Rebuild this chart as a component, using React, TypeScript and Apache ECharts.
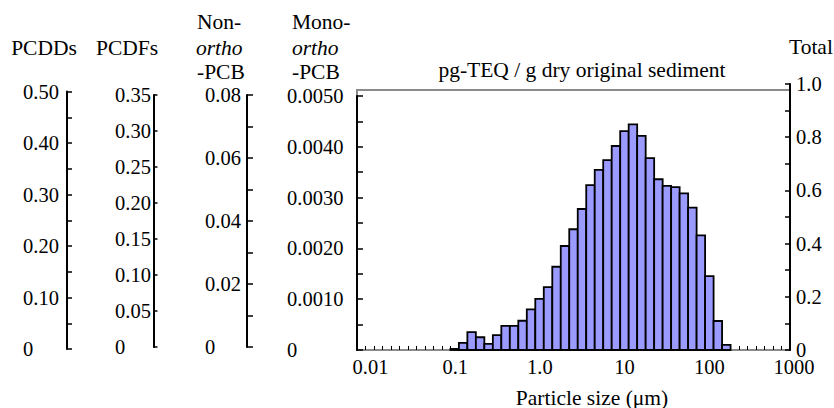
import React, { useEffect, useRef } from 'react';
import * as echarts from 'echarts';

const FONT = 'Liberation Serif, Times New Roman, serif';

// x axis: particle size, log10 scale (decades)
const sizeTickLog10 = [-2, -1, 0, 1, 2, 3];
const sizeTickLabels = ['0.01', '0.1', '1.0', '10', '100', '1000'];

// histogram bins (log10 of particle size, µm)
const binStartLog10 = -1.05;
const binWidthLog10 = 0.1;
// bar heights on the "Total" axis (0 – 1.0)
const totalValues = [
  0.004, 0.027, 0.067, 0.048, 0.023, 0.056, 0.091, 0.091, 0.11, 0.153, 0.192,
  0.236, 0.313, 0.391, 0.454, 0.53, 0.62, 0.677, 0.714, 0.767, 0.823, 0.848,
  0.805, 0.721, 0.642, 0.617, 0.612, 0.589, 0.535, 0.431, 0.278, 0.109, 0.019,
];

// axis ranges
const pcddsRange = [0, 0.5];
const pcdfsRange = [0, 0.35];
const nonOrthoRange = [0, 0.08];
const monoOrthoRange = [0, 0.005];
const totalRange = [0, 1.0];

const isMultiple = (v: number, step: number) => Math.abs(v / step - Math.round(v / step)) < 1e-6;

const labelStyle = { color: '#000', fontFamily: FONT, fontSize: 20.5 };

function leftAxis(gridIndex: number, range: number[], interval: number, labelStep: number, digits: number, margin: number, tickLen: number, padTop: number) {
  return {
    type: 'value',
    gridIndex,
    position: 'left',
    min: range[0],
    max: range[1],
    interval,
    z: 3,
    splitLine: { show: false },
    axisLine: { show: true, lineStyle: { color: '#000', width: 2 } },
    axisTick: { show: true, inside: true, length: tickLen, lineStyle: { color: '#000', width: 1.5 } },
    axisLabel: {
      ...labelStyle,
      align: 'left',
      margin,
      padding: [padTop, 0, 0, 0],
      formatter: (v: number) => (v === 0 ? '0' : isMultiple(v, labelStep) ? v.toFixed(digits) : ''),
    },
  };
}

function hiddenX(gridIndex: number) {
  return { type: 'value', gridIndex, show: false, min: 0, max: 1 };
}
function hiddenY(gridIndex: number) {
  return { type: 'value', gridIndex, show: false, min: 0, max: 1 };
}

export default function App() {
  const ref = useRef<HTMLDivElement>(null);

  useEffect(() => {
    if (!ref.current) return;
    const chart = echarts.init(ref.current, null, { renderer: 'svg' });

    const barData = totalValues.map((v, i) => {
      const start = binStartLog10 + i * binWidthLog10;
      return [start, start + binWidthLog10, v];
    });

    const option: any = {
      animation: false,
      backgroundColor: '#fff',
      textStyle: { fontFamily: FONT },
      grid: [
        { left: 357, top: 84, width: 433, height: 266, outerBoundsMode: 'none', containLabel: false },
        { left: 357, top: 96, width: 433, height: 254, outerBoundsMode: 'none', containLabel: false },
        { left: 357, top: 90, width: 433, height: 260, show: true, borderColor: '#8a8a8a', borderWidth: 2, z: 0, outerBoundsMode: 'none', containLabel: false },
        { left: 370.5, top: 84, width: 423.5, height: 266, outerBoundsMode: 'none', containLabel: false },
        { left: 67, top: 91.5, width: 10, height: 257.5, outerBoundsMode: 'none', containLabel: false },
        { left: 153.5, top: 95, width: 10, height: 252, outerBoundsMode: 'none', containLabel: false },
        { left: 247, top: 95, width: 10, height: 252, outerBoundsMode: 'none', containLabel: false },
      ],
      xAxis: [
        {
          type: 'value',
          gridIndex: 0,
          min: -2.15,
          max: 2.95,
          interval: binWidthLog10,
          z: 1,
          splitLine: { show: false },
          axisLine: { show: true, onZero: false, lineStyle: { color: '#8a8a8a', width: 2 } },
          axisTick: { show: true, inside: true, length: 4, lineStyle: { color: '#000', width: 1 } },
          axisLabel: { show: false },
        },
        hiddenX(1),
        hiddenX(2),
        {
          type: 'value',
          gridIndex: 3,
          min: sizeTickLog10[0],
          max: sizeTickLog10[sizeTickLog10.length - 1],
          interval: 1,
          splitLine: { show: false },
          axisLine: { show: false },
          axisTick: { show: false },
          axisLabel: {
            ...labelStyle,
            margin: 6,
            formatter: (v: number) => sizeTickLabels[sizeTickLog10.indexOf(Math.round(v))] ?? '',
          },
        },
        hiddenX(4),
        hiddenX(5),
        hiddenX(6),
      ],
      yAxis: [
        {
          type: 'value',
          gridIndex: 0,
          position: 'right',
          min: totalRange[0],
          max: totalRange[1],
          interval: 0.1,
          z: 3,
          splitLine: { show: false },
          axisLine: { show: true, onZero: false, lineStyle: { color: '#000', width: 2 } },
          axisTick: { show: true, inside: true, length: 5, lineStyle: { color: '#000', width: 1.5 } },
          axisLabel: {
            ...labelStyle,
            margin: 6,
            formatter: (v: number) => (v === 0 ? '0' : isMultiple(v, 0.2) ? v.toFixed(1) : ''),
          },
        },
        leftAxis(1, monoOrthoRange, 0.0005, 0.001, 4, 70, 6, 9),
        hiddenY(2),
        hiddenY(3),
        leftAxis(4, pcddsRange, 0.05, 0.1, 2, 44, 5, 9),
        leftAxis(5, pcdfsRange, 0.05, 0.05, 2, 38.5, 4, 7),
        leftAxis(6, nonOrthoRange, 0.01, 0.02, 2, 42, 6, 12),
      ],
      series: [
        {
          type: 'custom',
          xAxisIndex: 0,
          yAxisIndex: 0,
          z: 2,
          encode: { x: [0, 1], y: 2 },
          data: barData,
          renderItem: (_params: any, api: any) => {
            const p0 = api.coord([api.value(0), api.value(2)]);
            const p1 = api.coord([api.value(1), 0]);
            return {
              type: 'rect',
              shape: { x: p0[0], y: p0[1], width: p1[0] - p0[0], height: p1[1] - p0[1] },
              style: { fill: '#9b9bff', stroke: '#000', lineWidth: 1.8 },
            };
          },
        },
      ],
      graphic: [
        ...[
          { t: 'PCDDs', x: 44, y: 47.5, a: 'center' },
          { t: 'PCDFs', x: 127, y: 47.5, a: 'center' },
          { t: 'Non-', x: 197, y: 21.5, a: 'left' },
          { t: 'ortho', x: 196, y: 47.5, a: 'left', i: true },
          { t: '-PCB', x: 197, y: 71.5, a: 'left' },
          { t: 'Mono-', x: 292, y: 21.5, a: 'left' },
          { t: 'ortho', x: 292, y: 47.5, a: 'left', i: true },
          { t: '-PCB', x: 292, y: 71.5, a: 'left' },
          { t: 'Total', x: 789, y: 46.5, a: 'left' },
          { t: 'pg-TEQ / g dry original sediment', x: 582, y: 70, a: 'center' },
          { t: 'Particle size (\u03bcm)', x: 592, y: 397.5, a: 'center' },
        ].map((d: any) => ({
          type: 'text',
          x: d.x,
          y: d.y,
          z: 10,
          style: {
            text: d.t,
            fill: '#000',
            font: `${d.i ? 'italic ' : ''}21.5px ${FONT}`,
            fontFamily: FONT,
            fontSize: 21.5,
            fontStyle: d.i ? 'italic' : 'normal',
            align: d.a,
            textAlign: d.a,
            verticalAlign: 'middle',
            textVerticalAlign: 'middle',
          },
        })),
      ],
    };

    chart.setOption(option);
    return () => chart.dispose();
  }, []);

  return (
    <div
      ref={ref}
      style={{ position: 'fixed', left: 0, top: 0, width: 834, height: 408, background: '#fff' }}
    />
  );
}
